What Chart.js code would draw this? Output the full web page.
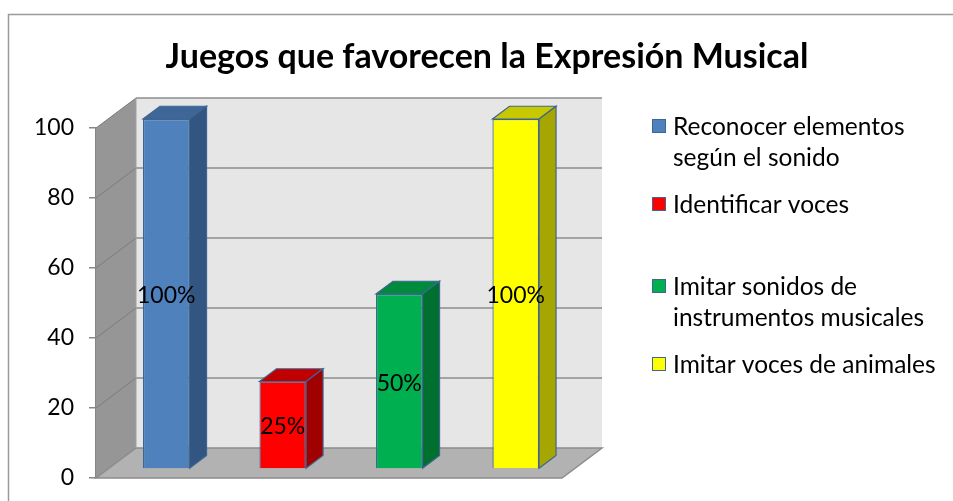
<!DOCTYPE html>
<html>
<head>
<meta charset="utf-8">
<script src="https://cdn.jsdelivr.net/npm/chart.js@4/dist/chart.umd.min.js"></script>
<style>
  html, body { margin: 0; padding: 0; background: #fff; }
  #wrap { width: 953px; height: 501px; position: relative; }
</style>
</head>
<body>
<div id="wrap"><canvas id="chart"></canvas></div>
<script>
// datos del gráfico
const chartTitle   = 'Juegos que favorecen la Expresión Musical';
const categories   = [''];
const seriesNames  = ['Reconocer elementos\nsegún el sonido', 'Identificar voces', 'Imitar sonidos de\ninstrumentos musicales', 'Imitar voces de animales'];
const seriesValues = [100, 25, 50, 100];
const yTicks       = [0, 20, 40, 60, 80, 100];

// colores de cada serie: cara frontal, cara superior, cara lateral
const frontColors = ['#4F81BD', '#FF0000', '#00B050', '#FFFF00'];
const topColors   = ['#3E6798', '#C00000', '#008A3E', '#C8C800'];
const sideColors  = ['#325581', '#A00000', '#00702F', '#A6A600'];
const edgeColor   = '#3F6592';

const FONT = 'Lato, "Open Sans", sans-serif';

// profundidad del efecto 3D
const DX = 40, DY = 30;        // pared de fondo
const FX = 12, FY = 9;         // cara frontal de las barras
const BX = 17, BY = 12.75;     // grosor de las barras

const wallsPlugin = {
    id: 'walls',
    beforeDraw(chart) {
        const { ctx, width, height } = chart;
        ctx.save();
        ctx.fillStyle = '#fff';
        ctx.fillRect(0, 0, width, height);
        // marco del gráfico
        ctx.strokeStyle = '#9A9A9A';
        ctx.lineWidth = 1.5;
        ctx.strokeRect(8.5, 14.5, width + 20, height + 20);
        // título
        ctx.fillStyle = '#000';
        ctx.font = 'bold 34px ' + FONT;
        ctx.textAlign = 'center';
        ctx.textBaseline = 'alphabetic';
        ctx.fillText(chartTitle, 487, 68);
        ctx.restore();
    },
    beforeDatasetsDraw(chart) {
        const { ctx, chartArea: a, scales: { y } } = chart;
        const grid = '#8C8C8C';
        ctx.save();
        // pared de fondo
        ctx.fillStyle = '#E6E6E6';
        ctx.fillRect(a.left + DX, a.top - DY, a.right - a.left, a.bottom - a.top);
        // pared lateral
        ctx.fillStyle = '#969696';
        ctx.beginPath();
        ctx.moveTo(a.left, a.top);
        ctx.lineTo(a.left + DX, a.top - DY);
        ctx.lineTo(a.left + DX, a.bottom - DY);
        ctx.lineTo(a.left, a.bottom);
        ctx.closePath();
        ctx.fill();
        // suelo
        ctx.fillStyle = '#B2B2B2';
        ctx.beginPath();
        ctx.moveTo(a.left, a.bottom);
        ctx.lineTo(a.right, a.bottom);
        ctx.lineTo(a.right + DX, a.bottom - DY);
        ctx.lineTo(a.left + DX, a.bottom - DY);
        ctx.closePath();
        ctx.fill();
        ctx.strokeStyle = grid;
        ctx.lineWidth = 1.5;
        ctx.stroke();
        // líneas de división
        yTicks.forEach(v => {
            if (v === 0) return;
            const py = y.getPixelForValue(v);
            ctx.strokeStyle = grid;
            ctx.lineWidth = 1.5;
            ctx.beginPath();
            ctx.moveTo(a.left + DX, py - DY);
            ctx.lineTo(a.right + DX, py - DY);
            ctx.stroke();
            ctx.strokeStyle = '#7C7C7C';
            ctx.lineWidth = 1;
            ctx.beginPath();
            ctx.moveTo(a.left, py);
            ctx.lineTo(a.left + DX, py - DY);
            ctx.stroke();
        });
        // borde lateral de la pared de fondo
        ctx.strokeStyle = '#A0A0A0';
        ctx.lineWidth = 1;
        ctx.beginPath();
        ctx.moveTo(a.left + DX, a.top - DY);
        ctx.lineTo(a.left + DX, a.bottom - DY);
        ctx.stroke();
        ctx.restore();
        // las barras se dibujan desplazadas hacia el fondo
        ctx.save();
        ctx.translate(FX, -FY);
    },
    afterDatasetsDraw(chart) {
        const { ctx } = chart;
        ctx.restore();
        ctx.save();
        chart.data.datasets.forEach((ds, i) => {
            const bar = chart.getDatasetMeta(i).data[0];
            if (!bar) return;
            const l = bar.x - bar.width / 2 + FX;
            const r = bar.x + bar.width / 2 + FX;
            const t = bar.y - FY;
            const b = bar.base - FY;
            ctx.lineWidth = 1.2;
            ctx.strokeStyle = edgeColor;
            // cara superior
            ctx.fillStyle = topColors[i];
            ctx.beginPath();
            ctx.moveTo(l, t);
            ctx.lineTo(l + BX, t - BY);
            ctx.lineTo(r + BX, t - BY);
            ctx.lineTo(r, t);
            ctx.closePath();
            ctx.fill();
            ctx.stroke();
            // cara lateral
            ctx.fillStyle = sideColors[i];
            ctx.beginPath();
            ctx.moveTo(r, t);
            ctx.lineTo(r + BX, t - BY);
            ctx.lineTo(r + BX, b - BY);
            ctx.lineTo(r, b);
            ctx.closePath();
            ctx.fill();
            ctx.stroke();
            // etiqueta de datos
            ctx.fillStyle = '#000';
            ctx.font = '23px ' + FONT;
            ctx.textAlign = 'center';
            ctx.textBaseline = 'middle';
            ctx.fillText(ds.data[0] + '%', (l + r) / 2, (t + b) / 2 + 2);
        });
        ctx.restore();
    },
    afterDraw(chart) {
        const { ctx } = chart;
        const tops = [119, 197, 279, 357];
        ctx.save();
        ctx.font = '24.5px ' + FONT;
        ctx.textAlign = 'left';
        ctx.textBaseline = 'middle';
        chart.data.datasets.forEach((ds, i) => {
            const top = tops[i];
            ctx.fillStyle = frontColors[i];
            ctx.fillRect(652, top, 13, 13);
            ctx.strokeStyle = edgeColor;
            ctx.lineWidth = 1;
            ctx.strokeRect(652.5, top + 0.5, 13, 13);
            ctx.fillStyle = '#000';
            ds.label.split('\n').forEach((line, k) => {
                ctx.fillText(line, 673, top + 8 + k * 31);
            });
        });
        ctx.restore();
    }
};

new Chart(document.getElementById('chart'), {
    type: 'bar',
    data: {
        labels: categories,
        datasets: seriesNames.map((name, i) => ({
            label: name,
            data: [seriesValues[i]],
            backgroundColor: frontColors[i],
            borderColor: edgeColor,
            borderWidth: 1.2,
            clip: false,
        })),
    },
    options: {
        responsive: true,
        maintainAspectRatio: false,
        animation: false,
        categoryPercentage: 1.0,
        barPercentage: 0.4,
        layout: { padding: { left: 0, top: 128, right: 391, bottom: 23 } },
        plugins: {
            legend:  { display: false },
            tooltip: { enabled: false },
            title:   { display: false },
        },
        scales: {
            x: { display: false },
            y: {
                min: 0,
                max: 100,
                afterFit: s => { s.width = 96; s.paddingTop = 0; s.paddingBottom = 0; },
                afterBuildTicks: s => { s.ticks = yTicks.map(v => ({ value: v })); },
                ticks: { color: '#000', padding: 15, font: { family: FONT, size: 23 } },
                grid:  { drawOnChartArea: false, drawTicks: true, tickLength: 7, color: '#868686', lineWidth: 1.5 },
                border: { display: true, color: '#868686', width: 1.5 },
            },
        },
    },
    plugins: [wallsPlugin],
});
</script>
</body>
</html>
